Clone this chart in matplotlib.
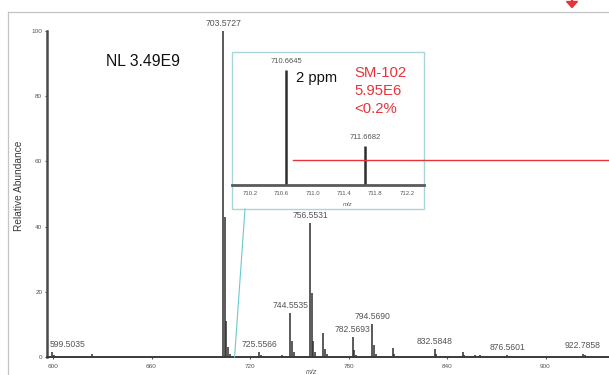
import matplotlib
matplotlib.use("Agg")
import matplotlib.pyplot as plt
from matplotlib.lines import Line2D
from matplotlib.patches import Rectangle, Polygon

plt.rcParams['font.family'] = ['Liberation Sans', 'DejaVu Sans']

# ---- full-scan spectrum (m/z, relative abundance %) ----
peak_mz = [599.5035, 600.5, 623.8, 703.5727, 704.576, 705.58, 706.58, 707.6,
           725.5566, 726.56, 739.5, 744.5535, 745.557, 746.56,
           756.5531, 757.556, 758.56, 759.56, 764.6, 765.6, 766.6,
           782.5693, 783.57, 784.57, 794.5690, 795.57, 796.57,
           806.9, 807.9, 832.5848, 833.59, 849.5, 850.5, 857.0, 860.0,
           876.5601, 922.7858, 923.79]
peak_rel = [1.5, 0.5, 1.0, 100.0, 43.0, 11.0, 3.0, 1.0,
            1.6, 0.6, 0.5, 13.4, 5.0, 1.5,
            41.0, 19.5, 5.0, 1.5, 7.3, 2.5, 0.8,
            6.2, 2.2, 0.6, 10.1, 3.6, 1.0,
            2.8, 1.0, 2.4, 0.9, 1.5, 0.5, 0.5, 0.5,
            0.6, 1.0, 0.5]
labelled_mz = [599.5035, 703.5727, 725.5566, 744.5535, 756.5531,
               782.5693, 794.5690, 832.5848, 876.5601, 922.7858]

x_ticks = [600, 660, 720, 780, 840, 900]
y_ticks = [0, 20, 40, 60, 80, 100]

# ---- zoomed SM-102 region ----
zoom_mz = [710.6645, 711.6682]
zoom_rel = [100.0, 34.0]
zoom_ticks = [710.2, 710.6, 711.0, 711.4, 711.8, 712.2]

W, H = 609, 375
fig = plt.figure(figsize=(W / 100, H / 100), dpi=100)


def fp(x, y):
    """pixel position (from top-left) -> figure fraction"""
    return x / W, 1 - y / H


def rect(x0, y_top, x1, y_bot):
    return [x0 / W, 1 - y_bot / H, (x1 - x0) / W, (y_bot - y_top) / H]


# panel frame
fig.add_artist(Line2D([8 / W, 1], [1 - 11.5 / H] * 2, color='#c4c4c4', lw=0.9,
                      transform=fig.transFigure))
fig.add_artist(Line2D([8 / W] * 2, [0, 1 - 11.5 / H], color='#c4c4c4', lw=0.9,
                      transform=fig.transFigure))
# red marker arrow on the frame
tri = [fp(566.5, 1.5), fp(577.5, 1.5), fp(572, 7.5)]
fig.add_artist(Polygon(tri, closed=True, color='#e8333b', transform=fig.transFigure))
fig.add_artist(Line2D([572 / W] * 2, [1, 1 - 2.5 / H], color='#e8333b', lw=1.5,
                      transform=fig.transFigure))

# ---- main spectrum ----
ax = fig.add_axes(rect(46.5, 31, 609, 357))
ax.vlines(peak_mz, 0, peak_rel, color='#2e2e2e', lw=1.1)
ax.set_xlim(596.04, 938.68)
ax.set_ylim(0, 100)
for s in ('top', 'right'):
    ax.spines[s].set_visible(False)
ax.spines['left'].set_color('#4a4a4a')
ax.spines['left'].set_linewidth(1.8)
ax.spines['bottom'].set_color('#3a3a3a')
ax.spines['bottom'].set_linewidth(1.4)
ax.set_xticks(x_ticks)
ax.set_yticks(y_ticks)
ax.tick_params(axis='both', labelsize=4.6, labelcolor='#555555', color='#555555',
               length=1.5, width=0.8)
ax.tick_params(axis='x', pad=3.5)
ax.tick_params(axis='y', pad=1.5)

for mz in labelled_mz:
    h = peak_rel[peak_mz.index(mz)]
    if mz == labelled_mz[0]:
        ax.annotate(f"{mz:.4f}", (mz, h), xytext=(-1.5, 5.6), textcoords='offset points',
                    ha='left', va='center', fontsize=6.2, color='#555555')
    else:
        ax.annotate(f"{mz:.4f}", (mz, h), xytext=(0, 5.6), textcoords='offset points',
                    ha='center', va='center', fontsize=6.2, color='#555555')

fig.text(*fp(19.3, 186), 'Relative Abundance', rotation=90, ha='center', va='center',
         fontsize=7.3, color='#3a3a3a')
fig.text(*fp(312, 373), 'm/z', ha='center', va='center', fontsize=5, color='#555555',
         style='italic')
fig.text(*fp(106, 65.7), 'NL 3.49E9', ha='left', va='baseline', fontsize=11.3,
         color='#111111')

# ---- inset box and connector ----
box_x0, box_y0, box_x1, box_y1 = 231.7, 51.7, 424, 208.5
fig.add_artist(Rectangle(fp(box_x0, box_y1), (box_x1 - box_x0) / W, (box_y1 - box_y0) / H,
                         facecolor='white', edgecolor='#a9d5da', lw=1.0,
                         transform=fig.transFigure, zorder=1))
x_conn = ax.transData.transform((710.6, 0))
x_conn = fig.transFigure.inverted().transform(x_conn)
fig.add_artist(Line2D([245 / W, x_conn[0]], [1 - 209 / H, x_conn[1]],
                      color='#6cc8d0', lw=0.8, transform=fig.transFigure, zorder=1))

axi = fig.add_axes(rect(box_x0, 70, box_x1, 185), zorder=5)
axi.patch.set_alpha(0)
axi.vlines(zoom_mz, 0, zoom_rel, color='#2e2e2e', lw=1.8)
axi.set_xlim(709.97, 712.42)
axi.set_ylim(0, 100)
for s in ('top', 'right', 'left'):
    axi.spines[s].set_visible(False)
axi.spines['bottom'].set_color('#5a5a5a')
axi.spines['bottom'].set_linewidth(2.0)
axi.set_yticks([])
axi.set_xticks(zoom_ticks)
axi.set_xticklabels([f"{t:.1f}" for t in zoom_ticks])
axi.tick_params(axis='x', labelsize=4.3, labelcolor='#555555', length=0, pad=4.5)
for mz, h in zip(zoom_mz, zoom_rel):
    axi.annotate(f"{mz:.4f}", (mz, h), xytext=(0, 6), textcoords='offset points',
                 ha='center', va='center', fontsize=5.5, color='#555555')
fig.text(*fp(348, 204), 'm/z', ha='center', va='center', fontsize=4.3,
         color='#555555', style='italic', zorder=7)
fig.text(*fp(295.7, 81.7), '2 ppm', ha='left', va='baseline', fontsize=10.6,
         color='#111111', zorder=7)

red = '#e8333b'
for txt, yb in zip(['SM-102', '5.95E6', '<0.2%'], [76.7, 95.0, 113.3]):
    fig.text(*fp(354, yb), txt, ha='left', va='baseline', fontsize=10.7,
             color=red, zorder=7)
fig.add_artist(Line2D([293 / W, 1], [1 - 160 / H] * 2, color=red, lw=1.0,
                      transform=fig.transFigure, zorder=8))

fig.savefig('out.png', dpi=100)
